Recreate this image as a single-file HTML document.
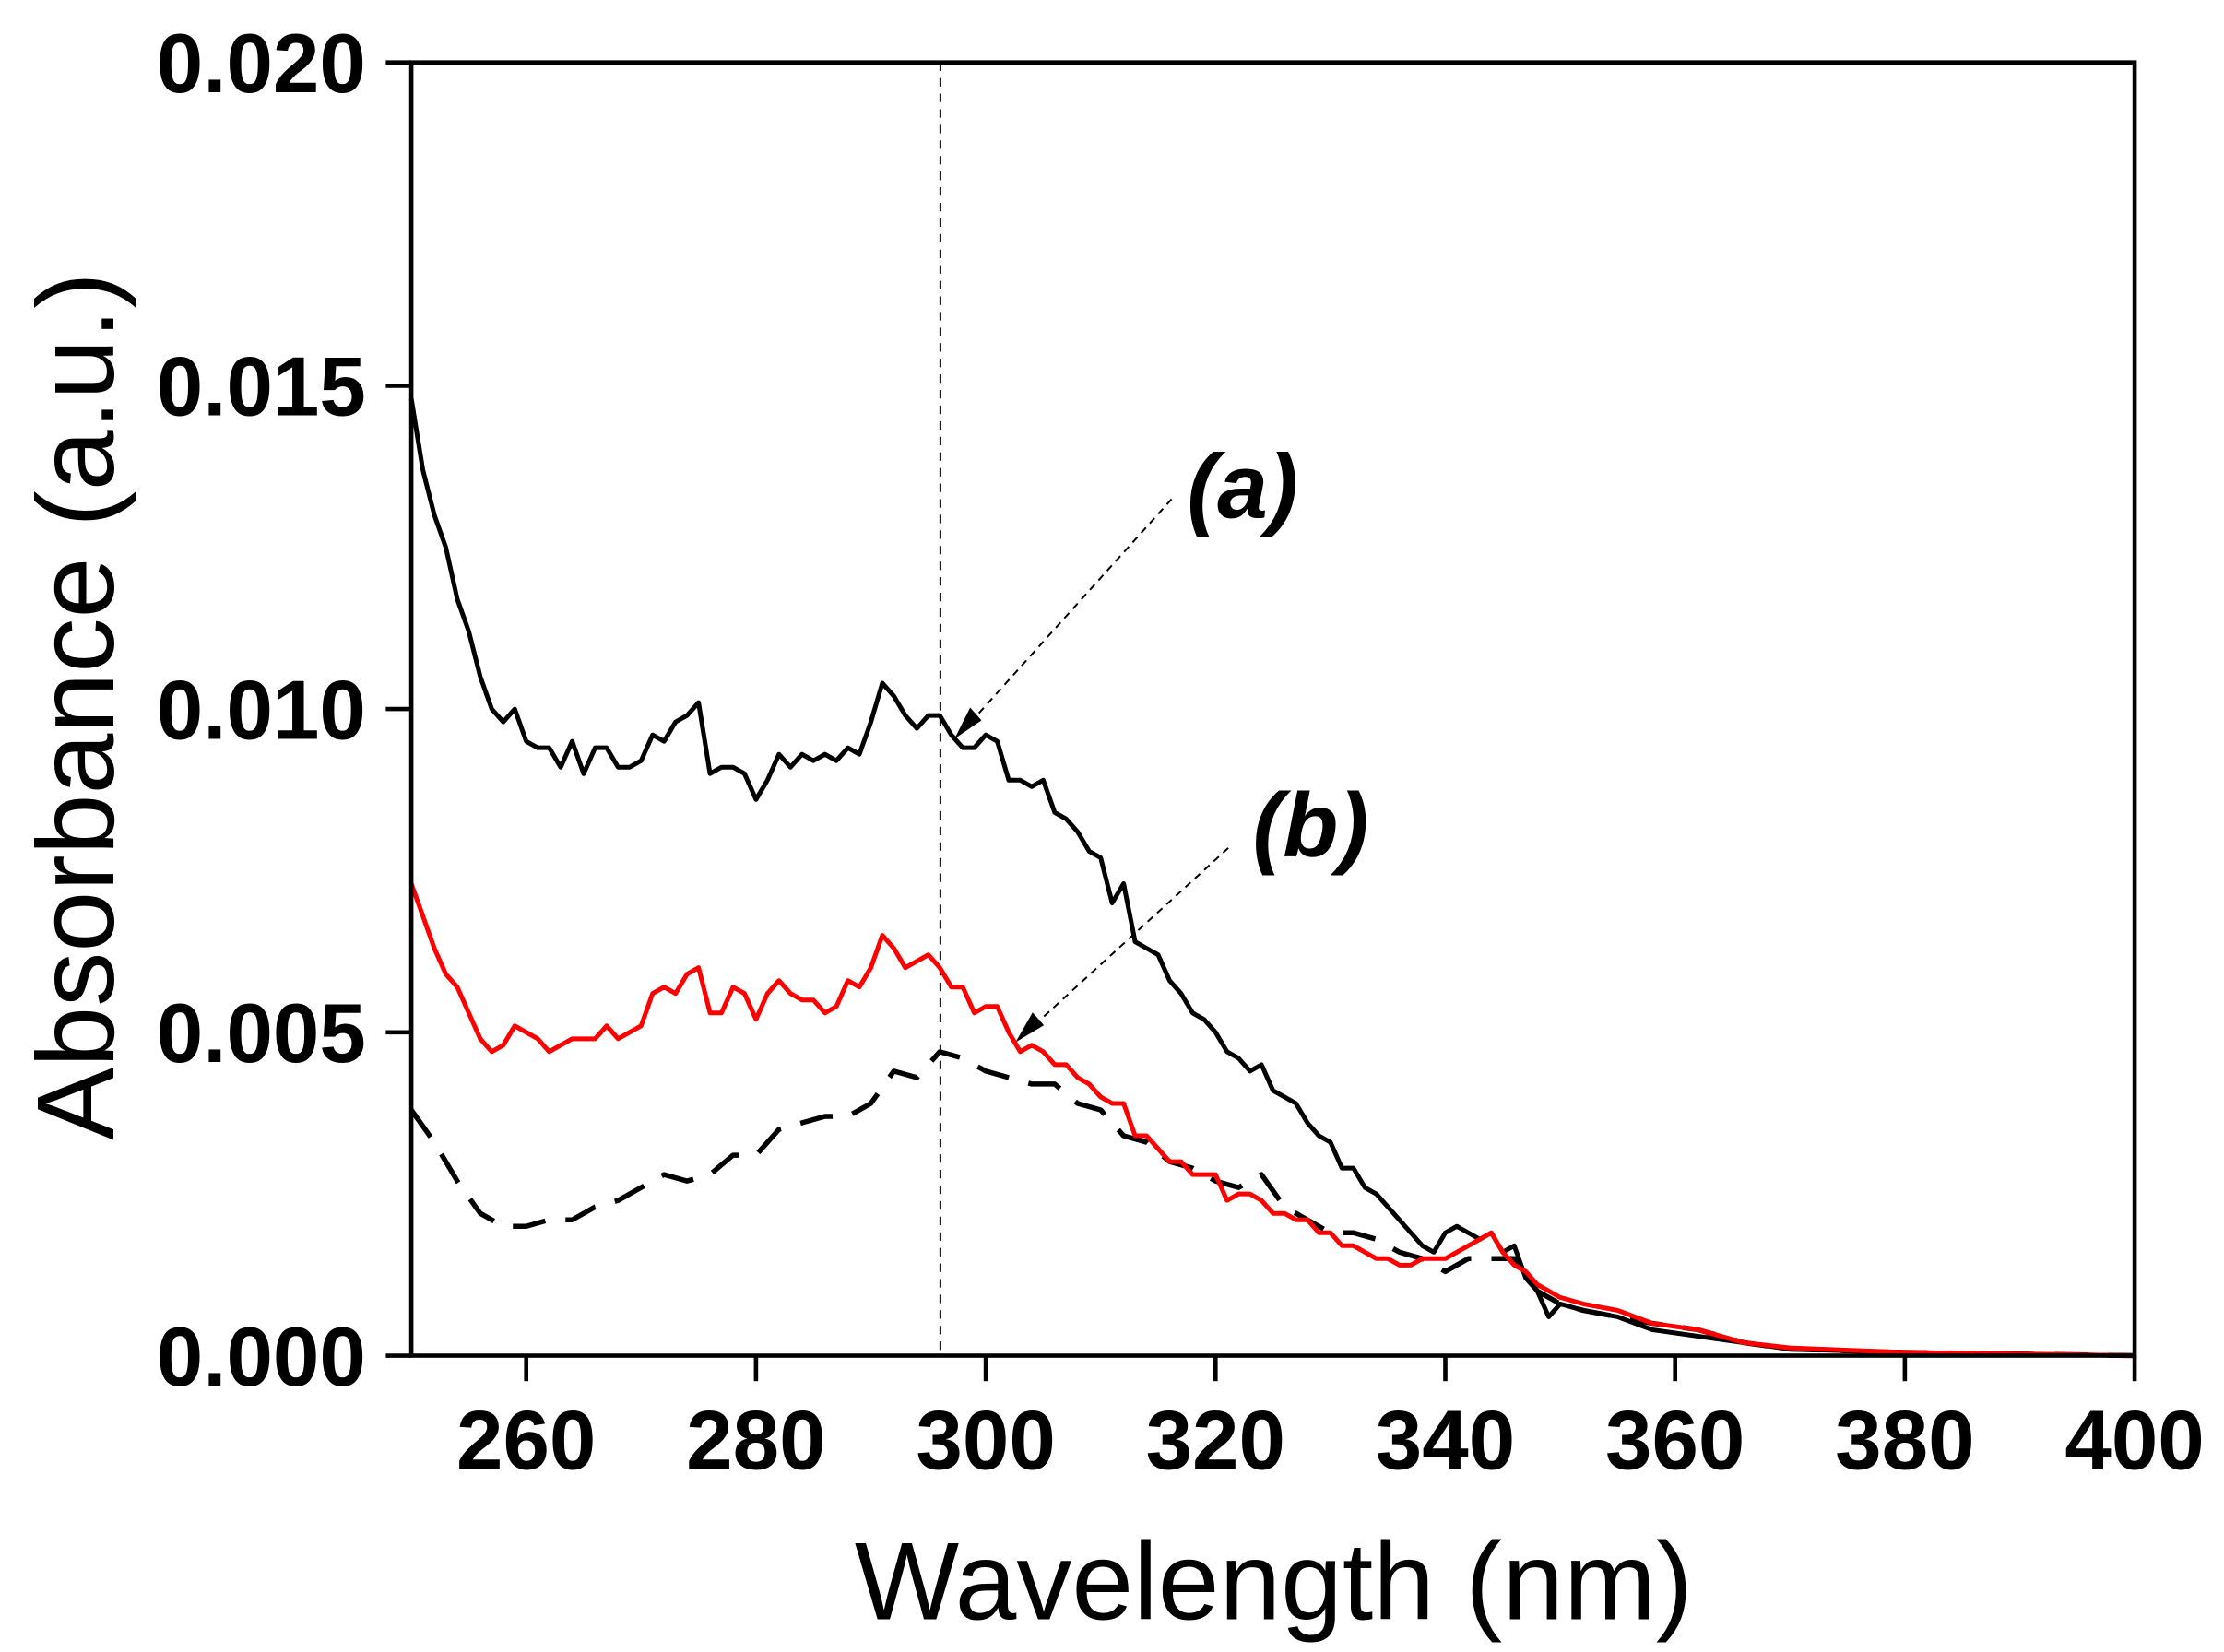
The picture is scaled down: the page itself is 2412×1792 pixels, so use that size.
<!DOCTYPE html>
<html><head><meta charset="utf-8"><style>html,body{margin:0;padding:0;background:#fff}svg{display:block}</style></head>
<body>
<svg width="2412" height="1792" viewBox="0 0 1568 1165" preserveAspectRatio="none" xmlns="http://www.w3.org/2000/svg" font-family="Liberation Sans, Arial, sans-serif">
<rect width="1568" height="1165" fill="#fff"/>
<line x1="663" y1="44" x2="663" y2="956" stroke="#000" stroke-width="1.3" stroke-dasharray="6,5"/>
<line x1="826" y1="352" x2="682" y2="512" stroke="#000" stroke-width="1.3" stroke-dasharray="5,4"/>
<polygon points="673,521 684,499 692,508" fill="#000"/>
<line x1="866" y1="598" x2="727" y2="725" stroke="#000" stroke-width="1.3" stroke-dasharray="5,4"/>
<polygon points="716,735 728,714 736,723" fill="#000"/>
<g transform="translate(290,956) scale(8.1,-4.56) translate(-250,0)" fill="none" stroke-linejoin="round">
<polyline vector-effect="non-scaling-stroke" stroke="#000" stroke-width="5.5" stroke-dasharray="36,22" points="250,38 252,33 254,27 256,22 258,20 260,20 262,21 264,21 266,23 268,24 270,26 272,28 274,27 276,28 278,31 280,31 282,35 284,36 286,37 288,37 290,39 292,44 294,43 296,47 298,46 300,44 302,43 304,42 306,42 308,39 310,38 312,34 314,33 316,30 318,29 320,27 322,26 324,28 326,23 328,21 330,19 332,19 334,18 336,16 338,15 340,13 342,15 344,15 346,15 348,10 350,8 352,7 355,6 358,5 362,4 366,2 370,1 380,0.5 400,0"/>
<polyline vector-effect="non-scaling-stroke" stroke="#000" stroke-width="5" points="250,148 251,137 252,130 253,125 254,117 255,112 256,105 257,100 258,98 259,100 260,95 261,94 262,94 263,91 264,95 265,90 266,94 267,94 268,91 269,91 270,92 271,96 272,95 273,98 274,99 275,101 276,90 277,91 278,91 279,90 280,86 281,89 282,93 283,91 284,93 285,92 286,93 287,92 288,94 289,93 290,98 291,104 292,102 293,99 294,97 295,99 296,99 297,96 298,94 299,94 300,96 301,95 302,89 303,89 304,88 305,89 306,84 307,83 308,81 309,78 310,77 311,70 312,73 313,64 314,63 315,62 316,58 317,56 318,53 319,52 320,50 321,47 322,46 323,44 324,45 325,41 326,40 327,39 328,36 329,34 330,33 331,29 332,29 333,26 334,25 335,23 336,21 337,19 338,17 339,16 340,19 341,20 342,19 343,18 344,19 345,16 346,17 347,12 348,10 349,6 350,8 352,7 355,6 358,4 362,3 366,2 370,1 380,0.5 400,0"/>
<polyline vector-effect="non-scaling-stroke" stroke="#ff0000" stroke-width="5" points="250,73 251,68 252,63 253,59 254,57 255,53 256,49 257,47 258,48 259,51 260,50 261,49 262,47 263,48 264,49 265,49 266,49 267,51 268,49 269,50 270,51 271,56 272,57 273,56 274,59 275,60 276,53 277,53 278,57 279,56 280,52 281,56 282,58 283,56 284,55 285,55 286,53 287,54 288,58 289,57 290,60 291,65 292,63 293,60 294,61 295,62 296,60 297,57 298,57 299,53 300,54 301,54 302,50 303,47 304,48 305,47 306,45 307,45 308,43 309,42 310,40 311,39 312,39 313,34 314,34 315,32 316,30 317,30 318,28 319,28 320,28 321,24 322,25 323,25 324,24 325,22 326,22 327,21 328,21 329,19 330,19 331,17 332,17 333,16 334,15 335,15 336,14 337,14 338,15 339,15 340,15 341,16 342,17 343,18 344,19 345,16 346,14 347,13 348,11 349,10 350,9 352,8 355,7 358,5 362,4 366,2 370,1.2 380,0.5 400,0"/>
</g>
<rect x="290" y="44" width="1215" height="912" fill="none" stroke="#000" stroke-width="3"/>
<g stroke="#000" stroke-width="3">
<line x1="272" y1="44" x2="290" y2="44"/><line x1="272" y1="272" x2="290" y2="272"/><line x1="272" y1="500" x2="290" y2="500"/><line x1="272" y1="728" x2="290" y2="728"/><line x1="272" y1="956" x2="290" y2="956"/>
<line x1="371" y1="956" x2="371" y2="974"/><line x1="533" y1="956" x2="533" y2="974"/><line x1="695" y1="956" x2="695" y2="974"/><line x1="857" y1="956" x2="857" y2="974"/><line x1="1019" y1="956" x2="1019" y2="974"/><line x1="1181" y1="956" x2="1181" y2="974"/><line x1="1343" y1="956" x2="1343" y2="974"/><line x1="1505" y1="956" x2="1505" y2="974"/>
</g>
<g font-size="59" font-weight="bold" text-anchor="end">
<text x="258" y="65">0.020</text><text x="258" y="293">0.015</text><text x="258" y="521">0.010</text><text x="258" y="749">0.005</text><text x="258" y="977">0.000</text>
</g>
<g font-size="59" font-weight="bold" text-anchor="middle">
<text x="371" y="1036">260</text><text x="533" y="1036">280</text><text x="695" y="1036">300</text><text x="857" y="1036">320</text><text x="1019" y="1036">340</text><text x="1181" y="1036">360</text><text x="1343" y="1036">380</text><text x="1505" y="1036">400</text>
</g>
<text x="898" y="1142" font-size="78" text-anchor="middle">Wavelength (nm)</text>
<text transform="translate(80,498) rotate(-90)" font-size="77" text-anchor="middle">Absorbance (a.u.)</text>
<text x="876" y="365" font-size="64" font-weight="bold" font-style="italic" text-anchor="middle">(a)</text>
<text x="924" y="604" font-size="64" font-weight="bold" font-style="italic" text-anchor="middle">(b)</text>
</svg>
</body></html>
